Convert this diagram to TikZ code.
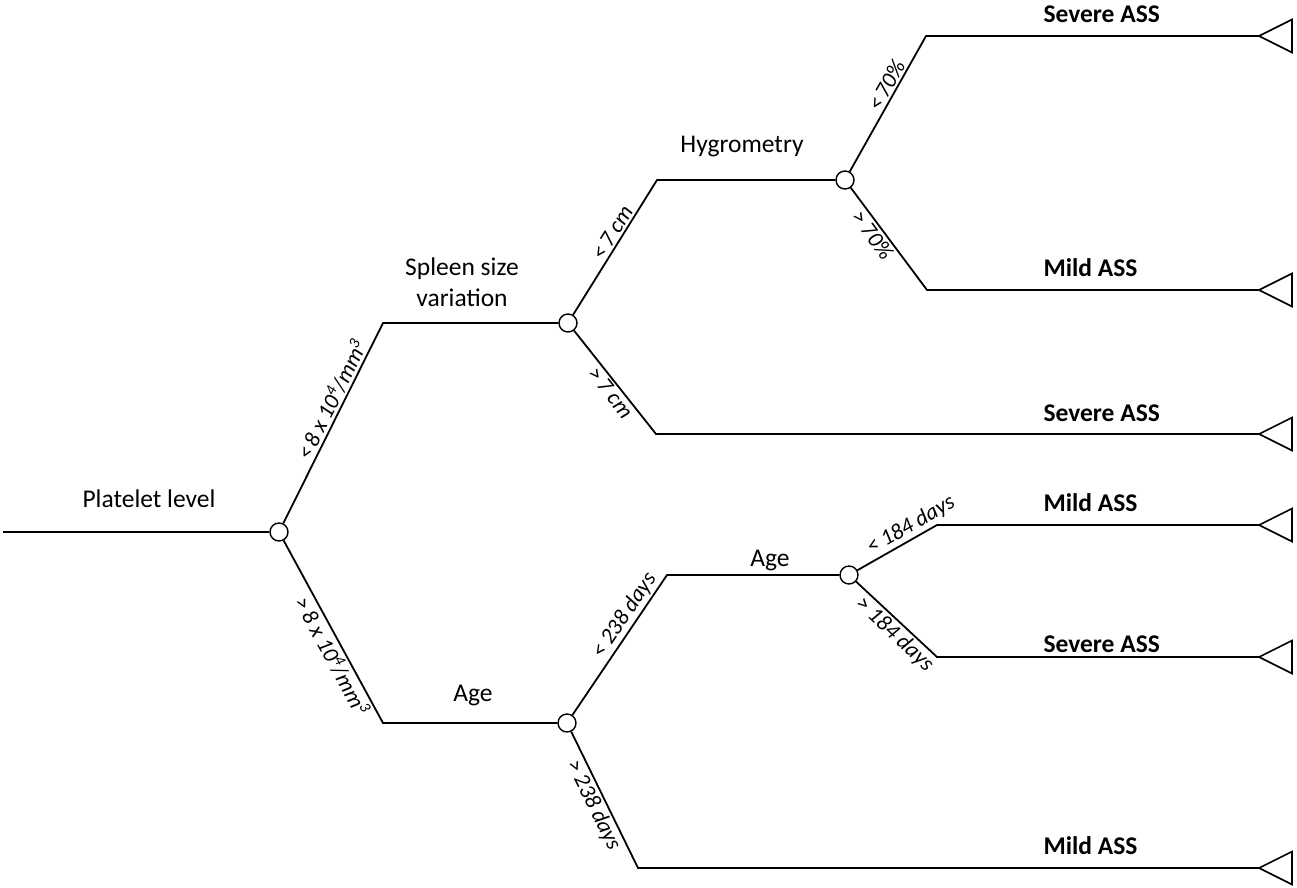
\documentclass[tikz,border=0pt]{standalone}
\usepackage{fontspec}
\setmainfont{Carlito}

\begin{document}
\begin{tikzpicture}[
    x=1pt, y=-1pt,
    % Reusable styles for the tree
    branch/.style={draw=black, line width=1.8pt},
    chance/.style={circle, draw=black, fill=white, line width=1.4pt, minimum size=18pt, inner sep=0pt},
    leaf tip/.style={draw=black, fill=white, line width=1.6pt},
    split label/.style={font=\fontsize{25.5}{31}\selectfont, align=center},
    outcome label/.style={font=\fontsize{25.5}{31}\selectfont\bfseries, anchor=west},
    cut label/.style={font=\fontsize{22.5}{27}\selectfont\itshape, sloped, inner sep=2pt}
]
    \useasboundingbox (0,0) rectangle (1297,887);

    % -------------------------
    % Chance nodes and bends
    % -------------------------
    \node[chance] (platelet) at (279,532) {};
    \node[chance] (spleen) at (568,323) {};
    \node[chance] (age) at (567,723) {};
    \node[chance] (hygro) at (845,180) {};
    \node[chance] (age2) at (849,575) {};

    \coordinate (start) at (3,532);
    \coordinate (spleenbend) at (383,323);
    \coordinate (agebend) at (383,723);
    \coordinate (hygrobend) at (657,180);
    \coordinate (age2bend) at (667,575);

    % bends and tips of the six outcome branches
    \coordinate (bend1) at (926,36);   \coordinate (out1) at (1259,36);
    \coordinate (bend2) at (927,290);  \coordinate (out2) at (1259,290);
    \coordinate (bend3) at (656,434);  \coordinate (out3) at (1259,434);
    \coordinate (bend4) at (937,525);  \coordinate (out4) at (1259,525);
    \coordinate (bend5) at (937,657);  \coordinate (out5) at (1259,657);
    \coordinate (bend6) at (638,868);  \coordinate (out6) at (1259,868);

    % -------------------------
    % Branches
    % -------------------------
    \draw[branch] (start) -- (platelet);
    \draw[branch] (platelet) -- node[cut label, pos=0.59, above] {<\,8 x 10\textsuperscript{4}/mm\textsuperscript{3}} (spleenbend) -- (spleen);
    \draw[branch] (platelet) -- node[cut label, pos=0.6, below] {>\,8 x 10\textsuperscript{4}/mm\textsuperscript{3}} (agebend) -- (age);

    \draw[branch] (spleen) -- node[cut label, pos=0.57, above] {<\,7 cm} (hygrobend) -- (hygro);
    \draw[branch] (spleen) -- node[cut label, pos=0.54, below] {>\,7 cm} (bend3) -- (out3);

    \draw[branch] (hygro) -- node[cut label, pos=0.6, above] {<\,70\%} (bend1) -- (out1);
    \draw[branch] (hygro) -- node[cut label, pos=0.4, below] {>\,70\%} (bend2) -- (out2);

    \draw[branch] (age) -- node[cut label, pos=0.66, above] {< 238 days} (age2bend) -- (age2);
    \draw[branch] (age) -- node[cut label, pos=0.5, below] {> 238 days} (bend6) -- (out6);

    \draw[branch] (age2) -- node[cut label, pos=0.75, above] {< 184 days} (bend4) -- (out4);
    \draw[branch] (age2) -- node[cut label, pos=0.58, below] {> 184 days} (bend5) -- (out5);

    % Terminal triangles
    \foreach \o in {out1,out2,out3,out4,out5,out6}
        \draw[leaf tip] (\o) -- ++(33,-16.5) -- ++(0,33) -- cycle;

    % -------------------------
    % Split and outcome labels
    % -------------------------
    \node[split label] (plateletlbl) at (149,499) {Platelet level};
    \node[split label] (spleenlbl) at (462,282) {Spleen size\\variation};
    \node[split label] (agelbl) at (473,695) {Age};
    \node[split label] (hygrolbl) at (742,147) {Hygrometry};
    \node[split label] (age2lbl) at (770,560) {Age};

    \node[outcome label] (res1) at (1040,14) {Severe ASS};
    \node[outcome label] (res2) at (1040,268) {Mild ASS};
    \node[outcome label] (res3) at (1040,413) {Severe ASS};
    \node[outcome label] (res4) at (1040,503) {Mild ASS};
    \node[outcome label] (res5) at (1040,644) {Severe ASS};
    \node[outcome label] (res6) at (1040,846) {Mild ASS};

\end{tikzpicture}
\end{document}
